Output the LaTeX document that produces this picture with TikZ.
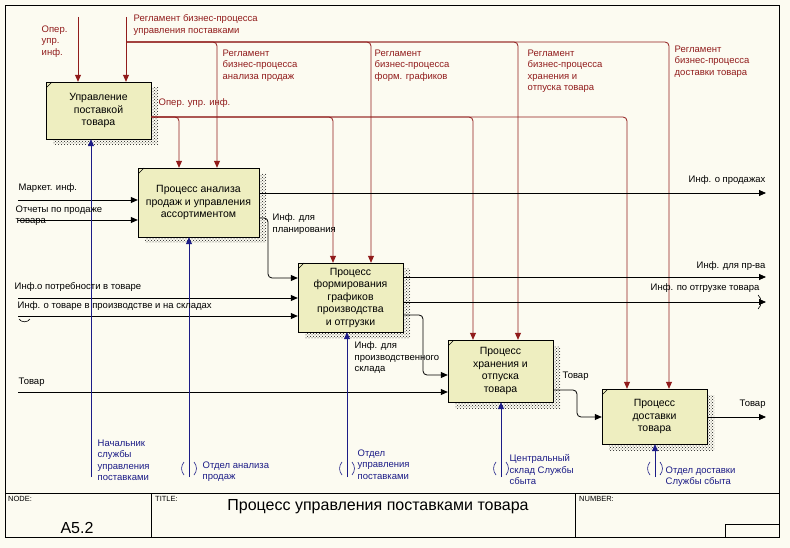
\documentclass[tikz,border=0pt]{standalone}
\usepackage{fontspec}
\setmainfont{Liberation Sans}
\usepackage{tikz}
\usetikzlibrary{arrows.meta,positioning,patterns,shadows}
\definecolor{idefBg}{RGB}{252,251,241}
\definecolor{idefBox}{RGB}{238,238,192}
\definecolor{idefCtl}{RGB}{145,28,28}
\definecolor{idefMech}{RGB}{28,28,135}

\begin{document}
\begin{tikzpicture}[x=1pt,y=-1pt,
box/.style={draw,fill=idefBox,align=center,minimum width=105pt,inner sep=1pt,font=\fontsize{10.5}{12.5}\selectfont,
  general shadow={pattern=crosshatch dots,pattern color=black!90,shadow xshift=7pt,shadow yshift=-6pt},
  path picture={\draw (path picture bounding box.north west) ++(0,-6pt) -- ++(6pt,6pt);}},
lbl/.style={align=left,inner sep=0.5pt,font=\fontsize{9.5}{11.5}\selectfont},
hdr/.style={inner sep=0pt,anchor=north west,font=\fontsize{7.5}{8}\selectfont},
flow/.style={draw,line width=0.8pt,-{Triangle[length=7pt,width=6pt]}},
ctl/.style={flow,draw=idefCtl,rounded corners=4pt},
mech/.style={flow,draw=idefMech},
tun/.style={line width=0.6pt}
]
\useasboundingbox (0,0) rectangle (790,548);
\fill[idefBg] (0,0) rectangle (790,548);

% activity boxes
\node[box,minimum height=57pt] (a0) at (98.5,110.5) {Управление\\поставкой\\товара};
\node[box,minimum width=121pt,minimum height=69pt] (b1) at (198.5,202.5) {Процесс анализа\\продаж и управления\\ассортиментом};
\node[box,minimum height=69pt] (b2) at (350.5,297.5) {Процесс\\формирования\\графиков\\производства\\и отгрузки};
\node[box,minimum height=62pt] (b3) at (500.5,371) {Процесс\\хранения и\\отпуска\\товара};
\node[box,minimum height=55pt] (b4) at (654.5,416.5) {Процесс\\доставки\\товара};

% controls
\coordinate (opin) at (78,17);
\coordinate (reg) at (126,17);
\coordinate (regbus) at (126,42);
\draw[ctl] (opin) -- (opin |- a0.north);
\draw[ctl] (reg) -- (reg |- a0.north);
\foreach \bx/\px in {b1/217,b2/371,b3/518,b4/669}
  \draw[ctl] (regbus) -| (\bx.north -| \px,0);
\coordinate (opout) at (a0.east |- 0,117);
\foreach \bx/\px in {b1/179,b2/333,b3/473,b4/627}
  \draw[ctl] (opout) -| (\bx.north -| \px,0);

% inputs and outputs at the border
\foreach \nm/\yy/\bx in {mkt/200/b1,rep/220/b1,need/298/b2,stock/316/b2,goods/392/b3}{
  \coordinate (\nm) at (18,\yy);
  \draw[flow] (\nm) -- (\nm -| \bx.west);
}
\foreach \nm/\yy/\bx in {sales/193/b1,prodinf/277/b2,ship/302/b2,goodsout/417/b4}{
  \coordinate (\nm) at (766,\yy);
  \draw[flow] (\bx.east |- \nm) -- (\nm);
}

% box to box
\draw[flow,rounded corners=4pt] (b1.east |- 0,218) -| (268,278) -- (b2.west |- 0,278);
\draw[flow,rounded corners=4pt] (b2.east |- 0,315) -| (423,375) -- (b3.west |- 0,375);
\draw[flow,rounded corners=4pt] (b3.east |- 0,390) -| (577,417) -- (b4.west |- 0,417);

% mechanisms
\foreach \bx/\px in {a0/91,b1/189,b2/347,b3/501,b4/655}{
  \coordinate (m\bx) at (\px,477);
  \draw[mech] (m\bx) -- (m\bx |- \bx.south);
}
\foreach \px in {189,347,501,655}{
  \draw[tun,idefMech] (\px-5,462) to[bend right=40] (\px-5,475);
  \draw[tun,idefMech] (\px+5,462) to[bend left=40] (\px+5,475);
}
\draw[tun] (stock) ++(1,3) to[bend right=60] ++(11,0);
\draw[tun] (ship) ++(-8,-7) to[bend left=50] ++(0,14);

% labels
\foreach \pos/\txt [count=\i] in {{41,25}/{Опер.\\упр.\\инф.},{133,14}/{Регламент бизнес-процесса\\управления поставками},
  {222,49}/{Регламент\\бизнес-процесса\\анализа продаж},{374,49}/{Регламент\\бизнес-процесса\\форм. графиков},
  {527,49}/{Регламент\\бизнес-процесса\\хранения и\\отпуска товара},{674,45}/{Регламент\\бизнес-процесса\\доставки товара},
  {158,98}/{Опер. упр. инф.}}
  \node[lbl,text=idefCtl,anchor=north west] (lc\i) at (\pos) {\txt};
\foreach \pos/\txt [count=\i] in {{18,183}/{Маркет. инф.},{15,205}/{Отчеты по продаже\\товара},{272,213}/{Инф. для\\планирования},
  {14,282}/{Инф.о потребности в товаре},{17,301}/{Инф. о товаре в производстве и на складах},
  {354,341}/{Инф. для\\производственного\\склада},{18,377}/{Товар},{688,175}/{Инф. о продажах},
  {696,261}/{Инф. для пр-ва},{650,283}/{Инф. по отгрузке товара},{562,371}/{Товар},{739,399}/{Товар}}
  \node[lbl,anchor=north west] (lf\i) at (\pos) {\txt};
\foreach \pos/\txt [count=\i] in {{97,439}/{Начальник\\службы\\управления\\поставками},{202,461}/{Отдел анализа\\продаж},
  {357,449}/{Отдел\\управления\\поставками},{509,454}/{Центральный\\склад Службы\\сбыта},{665,466}/{Отдел доставки\\Службы сбыта}}
  \node[lbl,text=idefMech,anchor=north west] (lm\i) at (\pos) {\txt};

% frame and title block
\draw[line width=0.8pt] (5,5) rectangle (779,537);
\draw[line width=0.8pt] (5,493) -- (779,493) (151,493) -- (151,537) (575,493) -- (575,537);
\draw[line width=0.8pt] (725,537) |- (779,524);
\node[hdr] (nodehdr) at (8,496) {NODE:};
\node[hdr] (titlehdr) at (155,496) {TITLE:};
\node[hdr] (numhdr) at (579,496) {NUMBER:};
\node[font=\fontsize{16}{18}\selectfont,inner sep=0pt] (nodeid) at (77,528) {A5.2};
\node[font=\fontsize{16}{18}\selectfont,inner sep=0pt] (title) at (378,507) {Процесс управления поставками товара};
\end{tikzpicture}
\end{document}
